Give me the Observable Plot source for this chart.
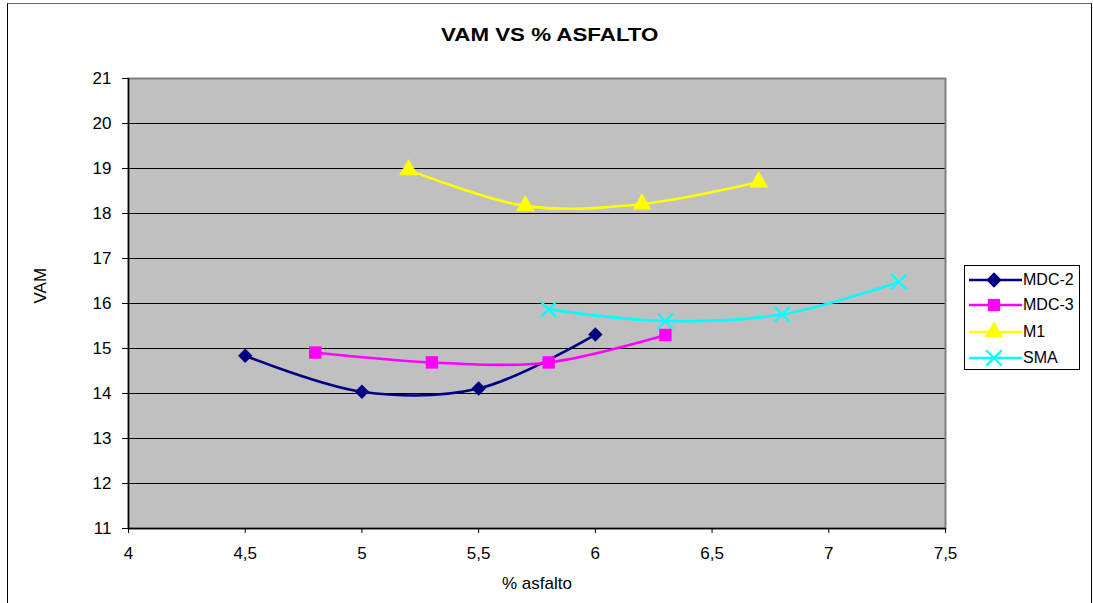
<!DOCTYPE html>
<html>
<head>
<meta charset="utf-8">
<script src="https://cdn.jsdelivr.net/npm/d3@7"></script>
<script src="https://cdn.jsdelivr.net/npm/@observablehq/plot@0.6"></script>
<style>
  html, body { margin: 0; padding: 0; background: #fff; }
  body { width: 1093px; height: 603px; position: relative; overflow: hidden; font-family: "Liberation Sans", Arial, sans-serif; }
  #border { position: absolute; left: 7px; top: 3px; width: 1085px; height: 620px; border: 1px solid #000; border-top-color: #666; box-sizing: border-box; pointer-events: none; }
  #title { position: absolute; left: 0; width: 1100px; top: 25px; text-align: center; font-weight: bold; font-size: 18px; transform: scaleX(1.24); transform-origin: 551px 0; }
  #chart { position: absolute; left: 0; top: 0; }
  #legend { position: absolute; left: 964px; top: 265px; width: 116px; height: 105px; border: 1px solid #000; box-sizing: border-box; background: #fff; font-size: 16px; }
  .item { position: absolute; left: 0; height: 20px; display: flex; align-items: center; }
  .item svg { display: block; }
  .item span { margin-left: 1px; }
  #chart svg text { font-size: 17px; }
</style>
</head>
<body>
<div id="chart"></div>
<div id="title">VAM VS % ASFALTO</div>
<div id="legend"></div>
<div id="border"></div>
<script>
// Data
const seriesNames = ["MDC-2", "MDC-3", "M1", "SMA"];
const seriesColors = ["#000080", "#FF00FF", "#FFFF00", "#00FFFF"];
const seriesSymbols = ["diamond2", "square", "triangle", "times"];

const xMDC2 = [4.5, 5, 5.5, 6];
const yMDC2 = [14.84, 14.04, 14.11, 15.31];
const xMDC3 = [4.8, 5.3, 5.8, 6.3];
const yMDC3 = [14.91, 14.69, 14.69, 15.3];
const xM1 = [5.2, 5.7, 6.2, 6.7];
const yM1 = [18.97, 18.17, 18.21, 18.7];
const xSMA = [5.8, 6.3, 6.8, 7.3];
const ySMA = [15.87, 15.61, 15.76, 16.48];

const xTicks = [4, 4.5, 5, 5.5, 6, 6.5, 7, 7.5];
const yTicks = [11, 12, 13, 14, 15, 16, 17, 18, 19, 20, 21];

const title = "VAM VS % ASFALTO";
const xLabel = "% asfalto";
const yLabel = "VAM";

const xs = [xMDC2, xMDC3, xM1, xSMA];
const ys = [yMDC2, yMDC3, yM1, ySMA];
const rows = [];
seriesNames.forEach((name, i) => {
  xs[i].forEach((x, j) => rows.push({series: name, x, y: ys[i][j]}));
});

const fmt = d => String(d).replace(".", ",");

const marks = [
  Plot.frame({fill: "#C0C0C0", stroke: null}),
  Plot.ruleY(yTicks.slice(1, -1), {stroke: "#000", strokeWidth: 1}),
  Plot.frame({stroke: "#808080", strokeWidth: 2}),
  Plot.ruleX([4], {stroke: "#000", strokeWidth: 1.5}),
  Plot.ruleY([11], {stroke: "#000", strokeWidth: 1.5}),
  Plot.axisY({ticks: yTicks, tickSize: 6, tickPadding: 11, tickFormat: fmt, label: null, fontSize: 17}),
  Plot.axisX({ticks: xTicks, tickSize: 5, tickPadding: 13, tickFormat: fmt, label: null, fontSize: 17}),
  Plot.text([yLabel], {frameAnchor: "left", dx: -88, rotate: -90, fontSize: 17}),
  Plot.text([xLabel], {frameAnchor: "bottom", dy: 60, fontSize: 17})
];

seriesNames.forEach((name, i) => {
  const d = rows.filter(r => r.series === name);
  marks.push(Plot.line(d, {x: "x", y: "y", stroke: seriesColors[i], strokeWidth: 2.6, curve: "catmull-rom"}));
  if (seriesSymbols[i] === "times") {
    marks.push(Plot.dot(d, {x: "x", y: "y", symbol: "times", r: 7, stroke: seriesColors[i], strokeWidth: 2.2, fill: "none"}));
  } else {
    marks.push(Plot.dot(d, {x: "x", y: "y", symbol: seriesSymbols[i], r: seriesSymbols[i] === "diamond2" ? 6.5 : 7, fill: seriesColors[i], stroke: "none"}));
  }
});

const chart = Plot.plot({
  width: 1093,
  height: 603,
  marginLeft: 128,
  marginRight: 148,
  marginTop: 78,
  marginBottom: 75,
  style: {fontFamily: "Liberation Sans, Arial, sans-serif", fontSize: "17px", color: "#000", background: "transparent"},
  x: {domain: [4, 7.5]},
  y: {domain: [11, 21]},
  marks
});
document.getElementById("chart").appendChild(chart);

// Legend
const legend = document.getElementById("legend");
const symPaths = {
  "diamond2": d3.symbol(d3.symbolDiamond2, 150)(),
  "square": d3.symbol(d3.symbolSquare, 150)(),
  "triangle": d3.symbol(d3.symbolTriangle, 150)(),
  "times": d3.symbol(d3.symbolTimes, 160)()
};
const legendTops = [4, 29, 56, 82];
seriesNames.forEach((name, i) => {
  const item = document.createElement("div");
  item.className = "item";
  item.style.top = legendTops[i] + "px";
  const isTimes = seriesSymbols[i] === "times";
  item.innerHTML =
    `<svg width="57" height="20"><line x1="4" x2="57" y1="10" y2="10" stroke="${seriesColors[i]}" stroke-width="2.4"/>` +
    `<path transform="translate(29,10)" d="${symPaths[seriesSymbols[i]]}" ` +
    (isTimes ? `fill="none" stroke="${seriesColors[i]}" stroke-width="2.2"` : `fill="${seriesColors[i]}"`) +
    `/></svg><span>${name}</span>`;
  legend.appendChild(item);
});
</script>
</body>
</html>
